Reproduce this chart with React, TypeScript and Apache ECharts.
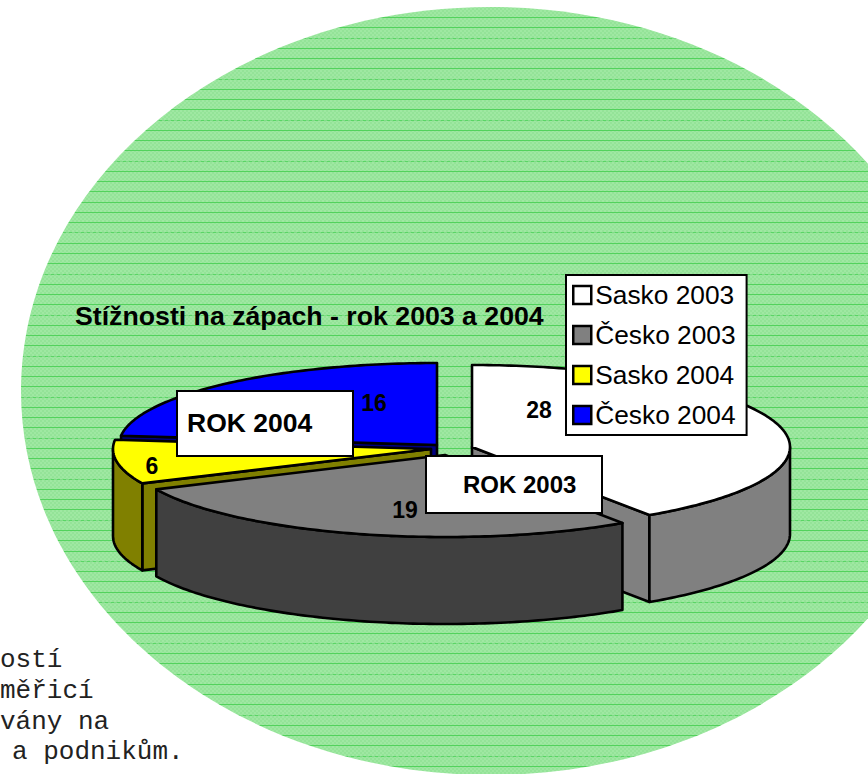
import React, { useEffect, useRef } from "react";
import * as echarts from "echarts";

// ---- data ----
const categories = ["Sasko 2003", "Česko 2003", "Sasko 2004", "Česko 2004"];
const sliceValues = [28, 19, 6, 16];
const titleText = "Stížnosti na zápach - rok 2003 a 2004";
const boxLabels = ["ROK 2004", "ROK 2003"];
const noteLines = ["ostí", "měřicí", "vány na", "a podnikům."];

// ---- styling and layout ----
const topColors = ["#ffffff", "#808080", "#ffff00", "#0000ff"];
const sideColors = ["#808080", "#404040", "#808000", "#000080"];
const drawOrder = [3, 4, 2, 1]; // blue < yellow < white < gray (legend order kept)
const explodedCentres = [
  [472, 447],
  [445, 455],
  [431, 449],
  [437, 445],
];
const labelAnchors = [
  [539, 410],
  [405, 510],
  [152, 466],
  [374, 403],
];
const RX = 318;
const RY = 82;
const DEPTH = 87;
const LINE = 2.6;
const SANS = '"Liberation Sans", Arial, sans-serif';
const MONO = '"Liberation Mono", "Courier New", monospace';

function hatchCanvas(): HTMLCanvasElement {
  const W = 12;
  const H = 774;
  const c = document.createElement("canvas");
  c.width = W;
  c.height = H;
  const g = c.getContext("2d")!;
  for (let y = 0; y < H; y++) {
    for (let x = 0; x < W; x++) {
      g.fillStyle = (Math.floor(x / 2) + Math.floor(y / 2)) % 2 ? "#9fe8a2" : "#94e398";
      g.fillRect(x, y, 1, 1);
    }
  }
  for (let k = 0; k < 75; k++) {
    const y = Math.round(17 + 10.26 * k);
    const phase = y < 200 ? 2 : y < 650 ? 1 : 0;
    if (k % 4 === phase) {
      for (let x = 0; x < W; x++) {
        g.fillStyle = Math.floor(x / 3) % 2 ? "#5ad565" : "#7fdc86";
        g.fillRect(x, y, 1, 1);
      }
    } else {
      g.fillStyle = "#52d25c";
      g.fillRect(0, y, W, 1);
    }
  }
  return c;
}

const total = sliceValues.reduce((a, b) => a + b, 0);

function arcPoints(cx: number, cy: number, a0: number, a1: number, dy = 0): number[][] {
  const pts: number[][] = [];
  const n = Math.max(2, Math.ceil(Math.abs(a1 - a0)));
  for (let i = 0; i <= n; i++) {
    const a = ((a0 + ((a1 - a0) * i) / n) * Math.PI) / 180;
    pts.push([cx + RX * Math.sin(a), cy - RY * Math.cos(a) + dy]);
  }
  return pts;
}

function makeRenderItem(index: number) {
  return (_params: any, api: any) => {
    const value = api.value(0);
    const before = sliceValues.slice(0, index).reduce((a, b) => a + b, 0);
    const a0 = (before / total) * 360;
    const a1 = a0 + (value / total) * 360;
    const [cx, cy] = explodedCentres[index];
    const children: any[] = [];
    const faceStyle = {
      fill: sideColors[index],
      stroke: "#000",
      lineWidth: LINE,
      lineJoin: "round",
    };
    const radial = (angle: number) => {
      const p = arcPoints(cx, cy, angle, angle)[0];
      children.push({
        type: "polygon",
        shape: { points: [[cx, cy], p, [p[0], p[1] + DEPTH], [cx, cy + DEPTH]] },
        style: faceStyle,
      });
    };
    if (a0 > 180 && a0 < 360) radial(a0);
    if (a1 > 0 && a1 < 180) radial(a1);
    const s0 = Math.max(a0, 90);
    const s1 = Math.min(a1, 270);
    if (s1 > s0) {
      const top = arcPoints(cx, cy, s0, s1);
      const bottom = arcPoints(cx, cy, s0, s1, DEPTH).reverse();
      children.push({
        type: "polygon",
        shape: { points: top.concat(bottom) },
        style: faceStyle,
      });
    }
    children.push({
      type: "polygon",
      shape: { points: [[cx, cy] as number[]].concat(arcPoints(cx, cy, a0, a1)) },
      style: { fill: topColors[index], stroke: "#000", lineWidth: LINE, lineJoin: "round" },
    });
    children.push({
      type: "text",
      z2: 10,
      style: {
        text: String(value),
        x: labelAnchors[index][0],
        y: labelAnchors[index][1],
        align: "center",
        verticalAlign: "middle",
        fill: "#000",
        font: `bold 23px ${SANS}`,
      },
    });
    return { type: "group", children };
  };
}

export default function App() {
  const ref = useRef<HTMLDivElement>(null);
  useEffect(() => {
    const chart = echarts.init(ref.current!, undefined, { renderer: "svg" });
    chart.setOption({
      animation: false,
      backgroundColor: "#ffffff",
      title: {
        text: titleText,
        left: 75,
        top: 302,
        padding: 0,
        z: 20,
        textStyle: { fontFamily: SANS, fontWeight: "bold", fontSize: 26.7, color: "#000" },
      },
      legend: {
        orient: "vertical",
        left: 566,
        top: 275,
        padding: [7, 11, 7, 6],
        z: 20,
        selectedMode: false,
        backgroundColor: "#ffffff",
        borderColor: "#000",
        borderWidth: 2,
        itemWidth: 18,
        itemHeight: 18,
        itemGap: 14,
        textStyle: { fontFamily: SANS, fontSize: 26.3, color: "#000", padding: [0, 0, 0, -1] },
        data: categories.map((name, i) => ({
          name,
          icon: "rect",
          itemStyle: { color: topColors[i], borderColor: "#000", borderWidth: 2.5 },
        })),
      },
      graphic: [
        {
          type: "ellipse",
          z: 0,
          silent: true,
          shape: { cx: 490, cy: 391, rx: 469, ry: 384 },
          style: { fill: { image: hatchCanvas(), repeat: "repeat" } },
        },
        ...[
          { x: 177, y: 391, w: 176, h: 65, tx: 187, ty: 423, fs: 26.5, label: boxLabels[0] },
          { x: 426, y: 456, w: 176, h: 57, tx: 463, ty: 484, fs: 24, label: boxLabels[1] },
        ].flatMap((b) => [
          {
            type: "rect",
            z: 30,
            silent: true,
            shape: { x: b.x, y: b.y, width: b.w, height: b.h },
            style: { fill: "#fff", stroke: "#000", lineWidth: 2 },
          },
          {
            type: "text",
            z: 31,
            silent: true,
            style: {
              text: b.label,
              x: b.tx,
              y: b.ty,
              verticalAlign: "middle",
              fill: "#000",
              font: `bold ${b.fs}px ${SANS}`,
            },
          },
        ]),
        ...noteLines.map((line, i) => ({
          type: "text",
          z: 5,
          silent: true,
          style: {
            text: line,
            x: [0, 0, 0, 12][i],
            y: [673, 704, 735, 765][i],
            verticalAlign: "bottom",
            fill: "#222",
            font: `26px ${MONO}`,
          },
        })),
      ],
      series: categories.map((name, i) => ({
        type: "custom",
        name,
        coordinateSystem: "none",
        z: drawOrder[i] + 1,
        silent: true,
        itemStyle: { color: topColors[i] },
        data: [[sliceValues[i]]],
        renderItem: makeRenderItem(i),
      })),
    });
    return () => chart.dispose();
  }, []);
  return (
    <div
      ref={ref}
      style={{ position: "fixed", left: 0, top: 0, width: 868, height: 774 }}
    />
  );
}
